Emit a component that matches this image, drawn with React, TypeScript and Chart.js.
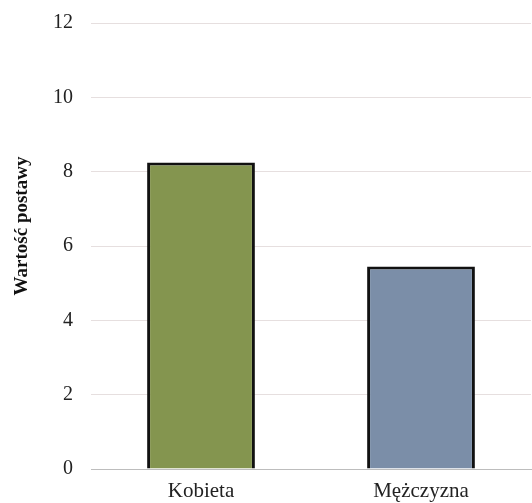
import React, { useEffect, useRef } from "react";
import { Chart, registerables } from "chart.js";

Chart.register(...registerables);

const categories = ["Kobieta", "Mężczyzna"];
const values = [8.25, 5.45];
const barColors = ["#84954f", "#7b8ea8"];
const yTitle = "Wartość postawy";

const serif = "'Liberation Serif', 'Times New Roman', serif";

const titlePlugin = {
  id: "yTitleDraw",
  afterDraw(chart: any) {
    const ctx = chart.ctx;
    ctx.save();
    ctx.translate(22, 226);
    ctx.rotate(-Math.PI / 2);
    ctx.font = `bold 19px ${serif}`;
    ctx.fillStyle = "#111";
    ctx.textAlign = "center";
    ctx.textBaseline = "middle";
    ctx.fillText(yTitle, 0, 0);
    ctx.restore();
  },
};

export default function App() {
  const ref = useRef<HTMLCanvasElement>(null);
  useEffect(() => {
    document.body.style.margin = "0";
    const chart = new Chart(ref.current!, {
      type: "bar",
      data: {
        labels: categories,
        datasets: [
          {
            data: values,
            backgroundColor: barColors,
            borderColor: "#111111",
            borderWidth: 3,
            barPercentage: 0.49,
            categoryPercentage: 1,
          },
        ],
      },
      plugins: [titlePlugin],
      options: {
        animation: false,
        responsive: false,
        maintainAspectRatio: false,
        layout: { padding: { top: 0, right: 1, left: 0, bottom: 0 } },
        plugins: { legend: { display: false }, tooltip: { enabled: false } },
        scales: {
          x: {
            grid: { display: false, drawTicks: false },
            border: { display: true, color: "#bdbdbd", width: 1 },
            ticks: {
              color: "#222",
              font: { family: serif, size: 21 },
              padding: 10,
            },
            afterFit: (s: any) => {
              s.height = 34;
            },
          },
          y: {
            min: 0,
            max: 12,
            ticks: {
              stepSize: 2,
              color: "#222",
              font: { family: serif, size: 20 },
              padding: 18,
            },
            grid: { color: "#e6dfdf", drawTicks: false, lineWidth: 1 },
            border: { display: false },
            afterFit: (s: any) => {
              s.width = 91;
              s.paddingTop = 23;
              s.paddingBottom = 0;
            },
          },
        },
      },
    });
    return () => chart.destroy();
  }, []);
  return (
    <div style={{ position: "fixed", left: 0, top: 0, width: 532, height: 503, background: "#fff" }}>
      <canvas ref={ref} width={532} height={503} />
    </div>
  );
}
